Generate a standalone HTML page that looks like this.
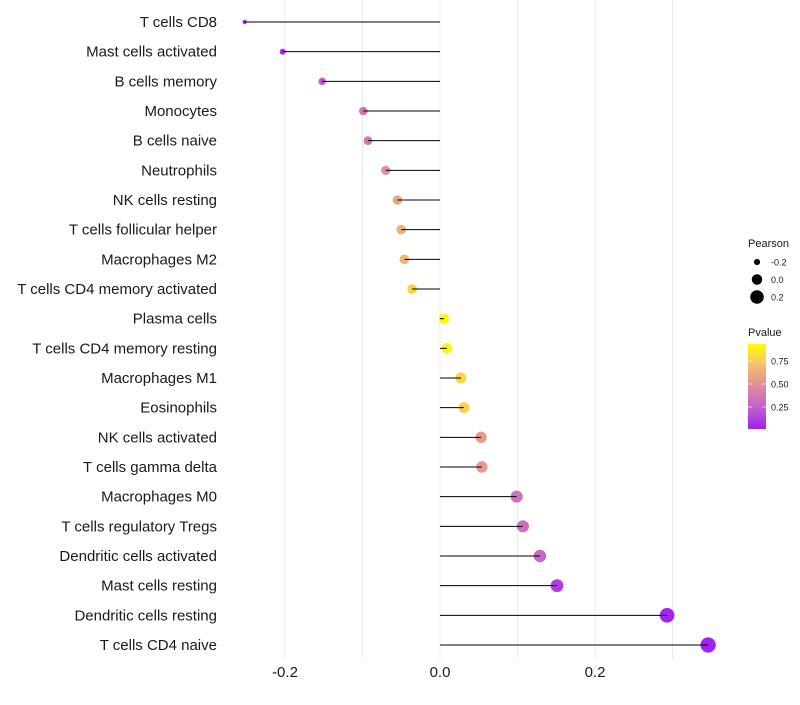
<!DOCTYPE html>
<html><head><meta charset="utf-8"><style>
body{margin:0;background:#fff;font-family:"Liberation Sans",sans-serif}
</style></head><body>
<svg id="c" width="800" height="700" xmlns="http://www.w3.org/2000/svg"></svg>
<script>
const categories=["T cells CD8","Mast cells activated","B cells memory","Monocytes","B cells naive","Neutrophils","NK cells resting","T cells follicular helper","Macrophages M2","T cells CD4 memory activated","Plasma cells","T cells CD4 memory resting","Macrophages M1","Eosinophils","NK cells activated","T cells gamma delta","Macrophages M0","T cells regulatory  Tregs","Dendritic cells activated","Mast cells resting","Dendritic cells resting","T cells CD4 naive"];
const pearson=[-0.252,-0.203,-0.152,-0.099,-0.093,-0.070,-0.055,-0.050,-0.046,-0.036,0.005,0.009,0.027,0.031,0.053,0.054,0.099,0.107,0.129,0.151,0.293,0.346];
const pvalue=[0.02,0.06,0.22,0.38,0.38,0.52,0.64,0.68,0.72,0.84,0.98,0.96,0.85,0.82,0.58,0.58,0.36,0.34,0.3,0.12,0.02,0.01];
const xTicks=[-0.2,0.0,0.2];
const xTickLabels=["-0.2","0.0","0.2"];
const gridVals=[-0.2,-0.1,0,0.1,0.2,0.3];
const legendSizes=[-0.2,0.0,0.2];
const legendColorTicks=[0.25,0.5,0.75];

const svg=document.getElementById('c');
const NS="http://www.w3.org/2000/svg";
const X=v=>440+v*775;
const Y=i=>22+i*(623/21);
const R=v=>Math.sqrt(Math.max(3,5+90*(v+0.25)));
const stops=[[0,[160,32,240]],[0.25,[192,96,208]],[0.5,[222,140,156]],[0.75,[242,190,114]],[1,[255,255,0]]];
function col(p){for(let i=1;i<stops.length;i++){if(p<=stops[i][0]){const a=stops[i-1],b=stops[i],t=(p-a[0])/(b[0]-a[0]);return 'rgb('+a[1].map((c,k)=>Math.round(c+(b[1][k]-c)*t)).join(',')+')';}}return 'rgb(255,255,0)';}
function el(t,a,txt){const e=document.createElementNS(NS,t);for(const k in a)e.setAttribute(k,a[k]);if(txt!=null)e.textContent=txt;svg.appendChild(e);return e;}

gridVals.forEach(v=>{const g=el('line',{x1:X(v),x2:X(v),y1:0,y2:660,stroke:'#ebebeb','stroke-width':1});

});

categories.forEach((c,i)=>{
const y=Y(i);
const t=el('text',{x:217,y:y+5,'text-anchor':'end','font-size':15,fill:'#1a1a1a'},c);


const p=el('circle',{cx:X(pearson[i]),cy:y,r:R(pearson[i]),fill:col(pvalue[i])});


const s=el('line',{x1:X(0),x2:X(pearson[i]),y1:y,y2:y,stroke:'#000','stroke-width':1});


});

xTicks.forEach((v,i)=>{const t=el('text',{x:X(v),y:677,'text-anchor':'middle','font-size':15,fill:'#1a1a1a'},xTickLabels[i]);

});

const lt=el('text',{x:748,y:247,'font-size':11,fill:'#1a1a1a'},'Pearson');


legendSizes.forEach((v,i)=>{const y=262+i*17.5;
const c=el('circle',{cx:757,cy:y,r:R(v),fill:'#000'});


const t=el('text',{x:771,y:y+3.5,'font-size':9,fill:'#1a1a1a'},v.toFixed(1));

});

const pt=el('text',{x:748,y:336,'font-size':11,fill:'#1a1a1a'},'Pvalue');


const defs=el('defs',{});
const lg=document.createElementNS(NS,'linearGradient');lg.setAttribute('id','g');lg.setAttribute('x1','0');lg.setAttribute('y1','1');lg.setAttribute('x2','0');lg.setAttribute('y2','0');
stops.forEach(s=>{const st=document.createElementNS(NS,'stop');st.setAttribute('offset',s[0]);st.setAttribute('stop-color',col(s[0]));lg.appendChild(st);});
defs.appendChild(lg);
const cb=el('rect',{x:748,y:344,width:18,height:85,fill:'url(#g)'});


const CY=v=>430-v*92;
legendColorTicks.forEach(v=>{
el('line',{x1:748,x2:752,y1:CY(v),y2:CY(v),stroke:'#fff','stroke-width':0.6});
el('line',{x1:762,x2:766,y1:CY(v),y2:CY(v),stroke:'#fff','stroke-width':0.6});
const t=el('text',{x:771,y:CY(v)+3.5,'font-size':9,fill:'#1a1a1a'},v.toFixed(2));

});
</script>
</body></html>
